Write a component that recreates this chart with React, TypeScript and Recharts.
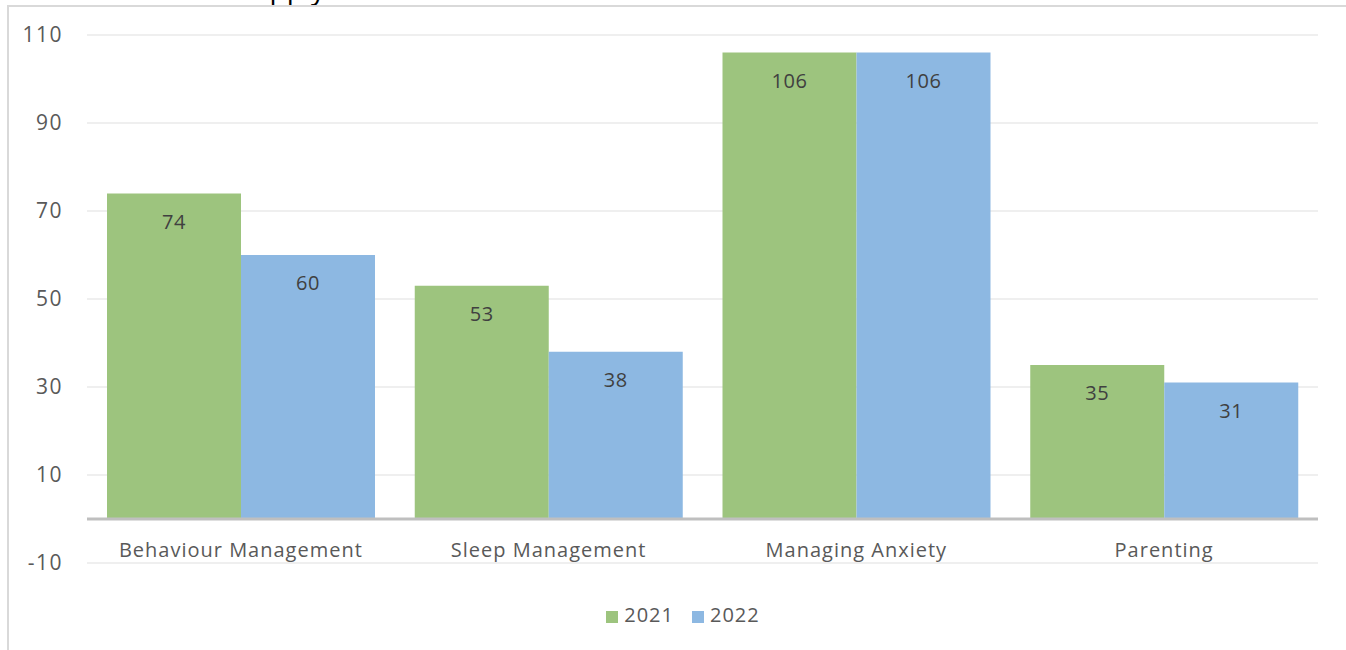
import React from 'react';
import {
  BarChart,
  Bar,
  XAxis,
  YAxis,
  CartesianGrid,
  Legend,
  ReferenceLine,
  LabelList,
} from 'recharts';

const categories = ['Behaviour Management', 'Sleep Management', 'Managing Anxiety', 'Parenting'];
const values2021 = [74, 53, 106, 35];
const values2022 = [60, 38, 106, 31];
const yTicks = [-10, 10, 30, 50, 70, 90, 110];

const COLORS = {
  green: '#9dc47e',
  blue: '#8db8e2',
  text: '#595959',
  label: '#404040',
  grid: '#efefef',
  zero: '#bfbfbf',
  frame: '#d9d9d9',
};

const FONT = '"Open Sans", sans-serif';

const data = categories.map((name, i) => ({
  name,
  y2021: values2021[i],
  y2022: values2022[i],
}));

const CategoryTick = (props: any) => {
  const { x, y, payload } = props;
  return (
    <text
      x={x}
      y={y}
      dy={-6}
      textAnchor="middle"
      fill={COLORS.text}
      fontSize={20}
      letterSpacing={1}
      fontFamily={FONT}
    >
      {payload.value}
    </text>
  );
};

const App: React.FC = () => {
  return (
    <div
      style={{
        position: 'fixed',
        left: 0,
        top: 0,
        width: 1346,
        height: 650,
        overflow: 'hidden',
        background: '#fff',
      }}
    >
      {/* clipped title text from the page above */}
      <div
        style={{
          position: 'absolute',
          left: 254,
          top: -28,
          fontFamily: FONT,
          fontSize: 28,
          color: '#000',
          lineHeight: '32px',
        }}
      >
        apply
      </div>
      {/* chart frame */}
      <div
        style={{
          position: 'absolute',
          left: 7,
          top: 5,
          width: 1400,
          height: 700,
          borderLeft: `2px solid ${COLORS.frame}`,
          borderTop: `2px solid ${COLORS.frame}`,
        }}
      />
      <div style={{ position: 'absolute', left: 0, top: 0 }}>
        <BarChart
          width={1346}
          height={650}
          data={data}
          margin={{ top: 35, right: 28, left: 0, bottom: 57 }}
          barCategoryGap="6.5%"
          barGap={0}
        >
          <CartesianGrid vertical={false} stroke={COLORS.grid} strokeWidth={2} />
          <XAxis
            dataKey="name"
            height={30}
            axisLine={false}
            tickLine={false}
            tickSize={0}
            tickMargin={0}
            tick={<CategoryTick />}
            interval={0}
          />
          <YAxis
            width={87}
            domain={[-10, 110]}
            ticks={yTicks}
            axisLine={false}
            tickLine={false}
            tickSize={0}
            tickMargin={24}
            tick={{ fill: COLORS.text, fontSize: 21, fontFamily: FONT, letterSpacing: 1.5 }}
          />
          <ReferenceLine y={0} stroke={COLORS.zero} strokeWidth={3} />
          <Bar dataKey="y2021" name="2021" fill={COLORS.green} isAnimationActive={false}>
            <LabelList
              dataKey="y2021"
              position="insideTop"
              offset={21}
              fill={COLORS.label}
              fontSize={20}
              letterSpacing={0.5}
              fontFamily={FONT}
            />
          </Bar>
          <Bar dataKey="y2022" name="2022" fill={COLORS.blue} isAnimationActive={false}>
            <LabelList
              dataKey="y2022"
              position="insideTop"
              offset={21}
              fill={COLORS.label}
              fontSize={20}
              letterSpacing={0.5}
              fontFamily={FONT}
            />
          </Bar>
          <Legend
            verticalAlign="middle"
            align="center"
            iconType="square"
            iconSize={12}
            wrapperStyle={{ top: 601, left: 33, fontFamily: FONT, fontSize: 20, letterSpacing: 1 }}
            formatter={(value: string) => (
              <span style={{ color: COLORS.text, marginLeft: 2, marginRight: 8 }}>{value}</span>
            )}
          />
        </BarChart>
      </div>
    </div>
  );
};

export default App;
